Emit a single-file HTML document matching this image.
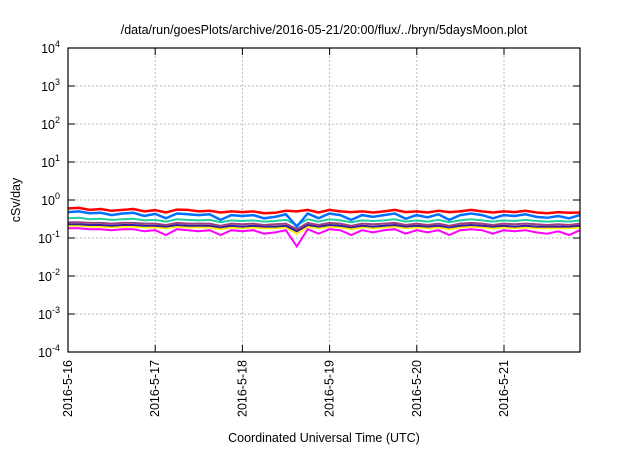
<!DOCTYPE html>
<html><head><meta charset="utf-8"><style>
body{margin:0;background:#fff;font-family:"Liberation Sans",sans-serif}
svg text{font-family:"Liberation Sans",sans-serif;fill:#000}
</style></head><body>
<svg id="c" width="640" height="448">
<text x="324" y="34" font-size="12.5" text-anchor="middle">/data/run/goesPlots/archive/2016-05-21/20:00/flux/../bryn/5daysMoon.plot</text>
<text x="324" y="442" font-size="12.5" text-anchor="middle">Coordinated Universal Time (UTC)</text>
<text transform="translate(20,200) rotate(-90)" font-size="12.5" text-anchor="middle">cSv/day</text>
<g id="grid"></g><g id="series"></g><g id="axes"></g>
</svg>
<script>
const xTickLabels=["2016-5-16","2016-5-17","2016-5-18","2016-5-19","2016-5-20","2016-5-21"];
const yTickExps=[4,3,2,1,0,-1,-2,-3,-4];
const seriesColors=["#ff0000","#0070ff","#20d0a0","#a04080","#3020a0","#ffee00","#ff00ff"];
const red=[0.6,0.62,0.55,0.58,0.52,0.55,0.58,0.5,0.54,0.47,0.56,0.55,0.5,0.52,0.47,0.5,0.48,0.5,0.45,0.46,0.52,0.5,0.55,0.47,0.55,0.5,0.48,0.5,0.47,0.5,0.55,0.48,0.5,0.47,0.52,0.48,0.5,0.55,0.5,0.47,0.5,0.48,0.52,0.47,0.45,0.48,0.46,0.47];
const blue=[0.48,0.5,0.45,0.46,0.4,0.44,0.46,0.38,0.43,0.33,0.44,0.42,0.4,0.42,0.3,0.4,0.38,0.4,0.33,0.36,0.42,0.2,0.44,0.33,0.44,0.4,0.3,0.4,0.36,0.4,0.44,0.32,0.4,0.35,0.42,0.3,0.4,0.44,0.4,0.33,0.4,0.38,0.42,0.36,0.34,0.38,0.33,0.4];
const teal=[0.33,0.34,0.31,0.32,0.3,0.31,0.32,0.29,0.3,0.27,0.31,0.3,0.29,0.3,0.26,0.29,0.28,0.29,0.27,0.28,0.3,0.22,0.31,0.27,0.31,0.29,0.26,0.29,0.28,0.29,0.31,0.27,0.29,0.27,0.3,0.26,0.29,0.31,0.29,0.27,0.29,0.28,0.3,0.28,0.27,0.28,0.27,0.29];
const purple=[0.26,0.26,0.25,0.25,0.24,0.25,0.25,0.24,0.24,0.22,0.25,0.24,0.24,0.24,0.21,0.24,0.23,0.24,0.22,0.23,0.24,0.17,0.25,0.22,0.25,0.24,0.21,0.24,0.23,0.24,0.25,0.22,0.24,0.22,0.24,0.21,0.24,0.25,0.24,0.22,0.24,0.23,0.24,0.23,0.22,0.23,0.22,0.24];
const navy=[0.23,0.23,0.22,0.22,0.21,0.22,0.22,0.21,0.21,0.2,0.22,0.21,0.21,0.21,0.19,0.21,0.2,0.21,0.2,0.2,0.21,0.15,0.22,0.2,0.22,0.21,0.19,0.21,0.2,0.21,0.22,0.2,0.21,0.2,0.21,0.19,0.21,0.22,0.21,0.2,0.21,0.2,0.21,0.2,0.2,0.2,0.2,0.21];
const yellow=[0.21,0.21,0.2,0.2,0.19,0.2,0.2,0.19,0.19,0.18,0.2,0.19,0.19,0.19,0.17,0.19,0.18,0.19,0.18,0.18,0.19,0.13,0.2,0.18,0.2,0.19,0.17,0.19,0.18,0.19,0.2,0.18,0.19,0.18,0.19,0.17,0.19,0.2,0.19,0.18,0.19,0.18,0.19,0.18,0.18,0.18,0.18,0.19];
const magenta=[0.18,0.18,0.17,0.17,0.16,0.17,0.17,0.15,0.16,0.12,0.17,0.16,0.15,0.16,0.12,0.16,0.15,0.16,0.13,0.14,0.16,0.06,0.17,0.13,0.17,0.16,0.12,0.16,0.14,0.16,0.17,0.13,0.16,0.14,0.16,0.12,0.16,0.17,0.16,0.13,0.16,0.15,0.16,0.14,0.13,0.15,0.12,0.16];
const allSeries=[red,blue,teal,purple,navy,yellow,magenta];
const seriesNames=["series-red","series-blue","series-teal","series-purple","series-navy","series-yellow","series-magenta"];
const L=68,R=580,T=48,B=352,dayPx=87.2,nDays=(R-L)/dayPx;
const NS="http://www.w3.org/2000/svg";
function xS(d){return L+d*dayPx;}
function yS(v){return T+(4-Math.log10(v))*(B-T)/8;}
function mk(tag,attrs,parent){const e=document.createElementNS(NS,tag);for(const k in attrs)e.setAttribute(k,attrs[k]);parent.appendChild(e);return e;}
const grid=document.getElementById('grid'),axes=document.getElementById('axes'),sg=document.getElementById('series');
yTickExps.forEach(p=>{const y=yS(Math.pow(10,p));
 if(p<4&&p>-4){const g=mk('line',{x1:L,x2:R,y1:y,y2:y,stroke:'#bbb','stroke-dasharray':'2,2'},grid);
 
 }
 mk('line',{x1:L,x2:L+7,y1:y,y2:y,stroke:'#000'},axes);mk('line',{x1:R,x2:R-7,y1:y,y2:y,stroke:'#000'},axes);
 const t=mk('text',{x:L-8,y:y+5,'font-size':'12.5','text-anchor':'end'},axes);
 
 
 t.innerHTML='10<tspan dy="-6" font-size="9">'+p+'</tspan>';});
xTickLabels.forEach((lab,i)=>{const x=xS(i);
 if(i>0){const g=mk('line',{x1:x,x2:x,y1:T,y2:B,stroke:'#bbb','stroke-dasharray':'2,2'},grid);
 
 }
 mk('line',{x1:x,x2:x,y1:B,y2:B-7,stroke:'#000'},axes);mk('line',{x1:x,x2:x,y1:T,y2:T+7,stroke:'#000'},axes);
 const t=mk('text',{transform:`translate(${x+4},${B+8}) rotate(-90)`,'font-size':'12.5','text-anchor':'end'},axes);
 
 
 t.textContent=lab;});
const fr=mk('rect',{x:L,y:T,width:R-L,height:B-T,fill:'none',stroke:'#000','stroke-width':1.2},axes);


for(let s=allSeries.length-1;s>=0;s--){const d=allSeries[s];
 const pts=d.map((v,i)=>xS(i*nDays/(d.length-1)).toFixed(1)+','+yS(v).toFixed(1)).join(' ');
 const pl=mk('polyline',{points:pts,fill:'none',stroke:seriesColors[s],'stroke-width':s<2?2.5:2},sg);
 
 }
</script>
</body></html>
